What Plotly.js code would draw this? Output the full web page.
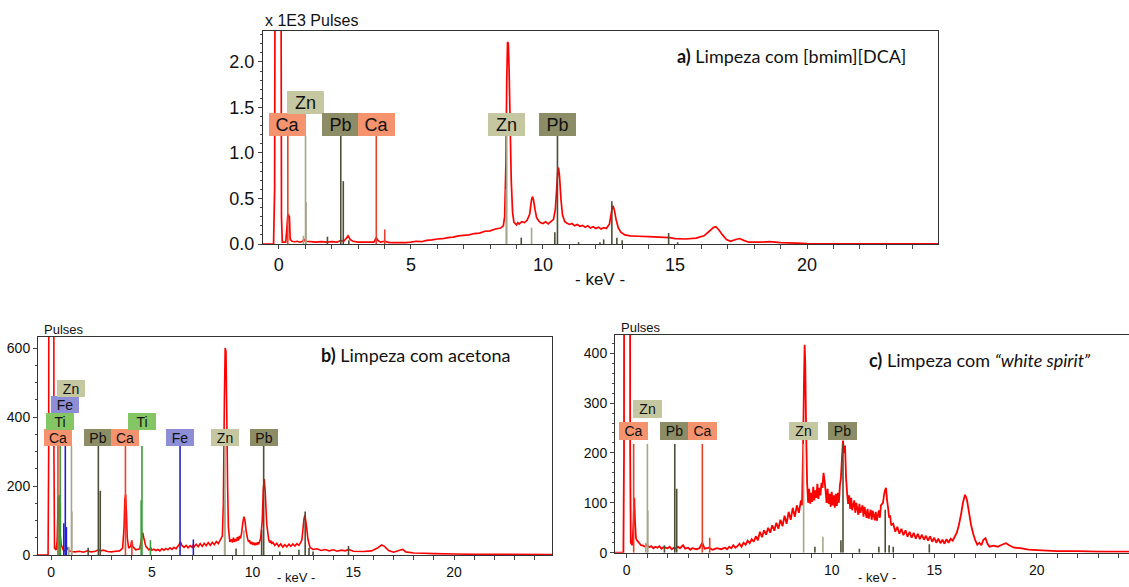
<!DOCTYPE html>
<html><head><meta charset="utf-8">
<script src="https://cdn.plot.ly/plotly-3.0.1.min.js"></script>
<style>html,body{margin:0;padding:0;background:#fff;} #chart{width:1129px;height:587px;}</style>
</head><body><div id="chart"></div>
<script>
// ---------- Spectrum a (x 1E3 pulses) ----------
const aEnergy = [-0.6,-0.2,-0.16,-0.13,0.07,0.1,0.13,0.26,0.3,0.34,0.36,0.4,0.43,0.5,0.6,0.7,0.8,0.9,0.95,1.0,1.2,1.4,1.6,1.8,2.0,2.2,2.35,2.45,2.55,2.62,2.7,2.8,3.0,3.3,3.6,3.69,3.75,3.85,4.0,4.2,4.5,4.8,5.0,5.2,5.4,5.6,5.8,6.0,6.2,6.4,6.6,6.8,7.0,7.2,7.4,7.6,7.8,8.0,8.2,8.4,8.5,8.55,8.6,8.63,8.66,8.69,8.72,8.76,8.8,8.85,8.9,9.0,9.05,9.1,9.2,9.3,9.4,9.5,9.56,9.6,9.64,9.7,9.76,9.85,9.9,10.0,10.1,10.2,10.3,10.4,10.47,10.52,10.56,10.59,10.63,10.68,10.74,10.82,10.9,11.0,11.1,11.2,11.3,11.4,11.5,11.6,11.7,11.8,11.9,12.0,12.1,12.2,12.3,12.4,12.52,12.6,12.65,12.7,12.77,12.85,12.95,13.1,13.3,13.6,14.0,14.4,14.8,15.0,15.4,15.8,16.1,16.3,16.45,16.55,16.65,16.8,16.95,17.1,17.3,17.45,17.6,17.8,18.2,18.6,19.0,19.6,20.0,21,22,25];
const aCounts = [0,0,0.6,5,5,0.3,0.02,0.02,0.15,0.32,0.32,0.3,0.05,0.03,0.025,0.03,0.02,0.03,0.05,0.03,0.025,0.02,0.025,0.02,0.025,0.02,0.04,0.03,0.06,0.09,0.05,0.03,0.02,0.02,0.02,0.07,0.04,0.02,0.03,0.015,0.015,0.015,0.02,0.03,0.025,0.04,0.045,0.055,0.058,0.07,0.075,0.09,0.095,0.1,0.115,0.12,0.14,0.145,0.165,0.175,0.2,0.3,0.9,1.8,2.22,2.2,1.9,1.3,0.7,0.35,0.24,0.21,0.235,0.22,0.245,0.235,0.26,0.33,0.47,0.52,0.49,0.38,0.29,0.25,0.235,0.225,0.245,0.22,0.245,0.27,0.38,0.6,0.8,0.84,0.74,0.5,0.32,0.25,0.23,0.215,0.225,0.2,0.215,0.195,0.205,0.185,0.2,0.175,0.19,0.17,0.185,0.165,0.18,0.17,0.22,0.36,0.42,0.38,0.27,0.18,0.13,0.1,0.09,0.085,0.08,0.075,0.07,0.06,0.055,0.065,0.09,0.14,0.18,0.19,0.16,0.1,0.05,0.03,0.05,0.06,0.04,0.02,0.02,0.025,0.015,0.01,0.005,0.003,0.002,0.001];

// ---------- Spectrum b (pulses) ----------
const bEnergy = [-0.65,-0.15,-0.12,-0.1,0.12,0.14,0.17,0.25,0.3,0.36,0.45,0.5,0.6,0.7,0.8,0.9,1.0,1.2,1.4,1.6,1.8,2.0,2.2,2.35,2.45,2.6,2.8,3.0,3.2,3.4,3.55,3.62,3.66,3.7,3.74,3.78,3.85,3.95,4.0,4.05,4.2,4.4,4.48,4.55,4.6,4.7,4.85,4.95,5.0,5.1,5.2,5.3,5.4,5.5,5.6,5.7,5.8,5.9,6.0,6.1,6.2,6.3,6.35,6.42,6.5,6.6,6.7,6.8,6.9,7.0,7.05,7.1,7.2,7.3,7.4,7.5,7.6,7.7,7.8,7.9,8.0,8.1,8.2,8.3,8.4,8.5,8.55,8.6,8.64,8.68,8.72,8.76,8.8,8.87,8.95,9.0,9.05,9.1,9.15,9.2,9.25,9.3,9.35,9.4,9.45,9.52,9.57,9.62,9.68,9.75,9.8,9.85,9.9,9.95,10.0,10.05,10.1,10.15,10.2,10.25,10.3,10.35,10.4,10.48,10.53,10.58,10.63,10.7,10.8,10.85,10.9,10.95,11.0,11.1,11.2,11.3,11.4,11.5,11.6,11.7,11.8,11.9,12.0,12.1,12.2,12.3,12.4,12.45,12.55,12.6,12.66,12.75,12.85,13.0,13.2,13.4,13.6,13.8,14.0,14.2,14.4,14.6,14.76,15.0,15.5,15.9,16.2,16.4,16.55,16.75,17.0,17.3,17.45,17.6,18.0,18.5,19.0,20.0,21,22,25];
const bCounts = [0,0,300,2000,2000,300,20,15,40,170,60,30,15,12,20,12,10,9,11,8,12,9,11,15,12,14,10,9,11,12,20,80,160,175,120,50,20,25,42,25,15,18,45,65,50,25,15,20,14,17,13,16,12,18,14,19,15,21,16,22,18,26,30,38,27,22,28,21,27,22,30,24,31,24,33,25,34,27,36,28,37,30,39,33,44,55,150,450,600,590,400,200,80,38,45,36,50,38,46,40,52,42,55,48,62,95,111,100,70,48,38,42,32,38,30,36,28,35,29,37,31,40,48,100,190,220,180,90,45,36,42,32,38,28,34,25,32,23,30,24,31,25,32,26,33,28,38,45,105,116,90,45,22,16,18,13,16,12,15,11,14,12,16,11,10,12,20,29,25,13,8,14,16,9,6,5,4,3,2,2,1];

// ---------- Spectrum c (pulses) ----------
const cEnergy = [-0.57,-0.16,-0.13,-0.11,0.14,0.17,0.2,0.28,0.33,0.37,0.41,0.45,0.5,0.6,0.7,0.8,0.9,1.0,1.1,1.2,1.3,1.4,1.5,1.6,1.7,1.8,2.0,2.1,2.2,2.3,2.4,2.5,2.6,2.75,2.85,3.0,3.1,3.2,3.4,3.55,3.69,3.8,4.0,4.2,4.4,4.6,4.8,4.9,5.0,5.1,5.2,5.3,5.4,5.5,5.6,5.7,5.8,5.9,6.0,6.1,6.2,6.3,6.4,6.5,6.6,6.7,6.8,6.9,7.0,7.1,7.2,7.3,7.4,7.5,7.6,7.7,7.8,7.9,8.0,8.1,8.2,8.3,8.4,8.5,8.55,8.6,8.65,8.68,8.71,8.75,8.8,8.85,8.9,8.95,9.0,9.05,9.1,9.15,9.2,9.25,9.3,9.35,9.4,9.45,9.5,9.55,9.6,9.65,9.7,9.75,9.8,9.85,9.9,9.95,10.0,10.05,10.1,10.15,10.2,10.25,10.3,10.35,10.4,10.45,10.5,10.55,10.6,10.65,10.7,10.75,10.8,10.85,10.9,10.95,11.0,11.1,11.15,11.2,11.3,11.35,11.4,11.5,11.55,11.6,11.7,11.75,11.8,11.9,11.95,12.0,12.1,12.15,12.2,12.3,12.35,12.4,12.5,12.55,12.6,12.65,12.7,12.75,12.8,12.85,12.9,13.0,13.1,13.2,13.3,13.4,13.5,13.6,13.7,13.8,13.9,14.0,14.1,14.2,14.3,14.4,14.5,14.6,14.7,14.8,14.9,15.0,15.1,15.2,15.3,15.4,15.5,15.6,15.7,15.8,15.9,16.0,16.1,16.2,16.3,16.4,16.5,16.55,16.6,16.7,16.8,16.9,17.0,17.1,17.2,17.3,17.4,17.5,17.6,17.7,17.9,18.1,18.3,18.5,18.7,18.9,19.2,19.6,20.0,20.5,21,22,23,24.5];
const cCounts = [0,0,200,2000,2000,200,20,15,60,110,60,30,25,20,15,14,12,16,11,13,9,12,10,13,8,11,9,12,7,10,8,12,9,15,8,10,6,9,7,9,20,8,10,6,9,7,10,7,12,9,15,10,13,18,12,20,16,24,19,27,22,33,25,42,31,45,36,50,40,55,44,60,48,66,53,74,58,82,66,90,72,95,80,105,95,200,350,417,380,250,140,100,128,98,120,102,132,105,125,110,138,108,130,115,140,130,160,145,125,100,128,98,118,92,122,95,115,90,118,94,120,100,135,150,190,225,200,215,150,120,98,115,88,110,85,105,80,100,76,98,80,95,72,92,70,88,68,86,66,84,65,82,64,85,70,95,100,115,125,130,105,90,70,75,55,58,42,52,38,48,35,45,32,42,30,40,28,38,27,36,26,34,24,33,22,30,20,28,19,26,18,27,20,28,24,32,40,55,75,100,116,112,105,80,55,38,25,16,20,15,26,29,18,12,14,12,16,19,14,10,9,6,5,4,3,3,2,2];

// ---------- Element lines (energy keV, height, element) ----------
const aLineEnergy  = [0.34,3.69,4.01, 0.93,1.01,1.03,8.61,8.63,9.57, 1.84,2.345,2.44,2.65,9.18,10.45,10.55,11.35,12.16,12.3,12.61,12.8,13.0,14.76,15.1];
const aLineHeight  = [1.19,1.19,0.16, 0.09,1.19,0.46,0.6,1.19,0.18, 0.08,1.19,0.69,0.04,0.07,0.13,1.19,0.02,0.02,0.05,0.47,0.07,0.04,0.12,0.02];
const aLineElement = ['Ca','Ca','Ca','Zn','Zn','Zn','Zn','Zn','Zn','Pb','Pb','Pb','Pb','Pb','Pb','Pb','Pb','Pb','Pb','Pb','Pb','Pb','Pb','Pb'];

const bLineEnergy  = [0.34,3.69,4.01, 0.40,0.45,0.46,4.47,4.51,4.93, 0.63,0.705,0.76,6.40,7.06, 0.88,1.01,1.03,8.61,8.63,9.57, 1.84,2.345,2.44,9.18,10.45,10.55,11.35,12.3,12.61,12.8,13.0,14.76];
const bLineHeight  = [316,316,42, 174,316,150,159,316,43, 92,316,81,316,45, 24,316,126,160,316,72, 21,316,186,19,72,316,10,15,126,20,10,26];
const bLineElement = ['Ca','Ca','Ca','Ti','Ti','Ti','Ti','Ti','Ti','Fe','Fe','Fe','Fe','Fe','Zn','Zn','Zn','Zn','Zn','Zn','Pb','Pb','Pb','Pb','Pb','Pb','Pb','Pb','Pb','Pb','Pb','Pb'];

const cLineEnergy  = [0.34,3.69,4.05, 0.93,1.01,1.03,8.63,9.57, 1.84,2.345,2.44,9.18,10.45,10.55,11.35,12.3,12.61,12.8,13.0,14.76];
const cLineHeight  = [218,218,30, 20,218,85,218,32, 15,218,128,12,25,218,8,12,86,15,12,17];
const cLineElement = ['Ca','Ca','Ca','Zn','Zn','Zn','Zn','Zn','Pb','Pb','Pb','Pb','Pb','Pb','Pb','Pb','Pb','Pb','Pb','Pb'];

// ---------- Element labels ----------
const aLabelEnergy = [0.34,1.01,2.345,3.69,8.63,10.55];
const aLabelElement = ['Ca','Zn','Pb','Ca','Zn','Pb'];
const aLabelRow = [0,1,0,0,0,0];
const bLabelEnergy = [0.34,0.45,0.705,1.01,2.345,3.69,4.51,6.40,8.63,10.55];
const bLabelElement = ['Ca','Ti','Fe','Zn','Pb','Ca','Ti','Fe','Zn','Pb'];
const bLabelRow = [0,1,2,3,0,0,1,0,0,0];
const cLabelEnergy = [0.34,1.01,2.345,3.69,8.63,10.55];
const cLabelElement = ['Ca','Zn','Pb','Ca','Zn','Pb'];
const cLabelRow = [0,1,0,0,0,0];

// ---------- styles ----------
const lineColor = {Ca:'#E8402A', Zn:'#A6A68A', Pb:'#4E4E36', Ti:'#3A9E3A', Fe:'#2222D0'};
const boxColor  = {Ca:'#F4936E', Zn:'#C4C7A0', Pb:'#8C8C66', Ti:'#84C664', Fe:'#8E8ED6'};
const TXT = '#111';
const SANS = 'Liberation Sans, Arial, sans-serif';

const panels = [
  {x:'x', y:'y', E:aEnergy, C:aCounts, LE:aLineEnergy, LH:aLineHeight, LEl:aLineElement, sw:1.7,
   labE:aLabelEnergy, labEl:aLabelElement, labRow:aLabelRow, labH:1.19, boxW:37, boxH:23, rowH:22, base:0, fs:18},
  {x:'x2', y:'y2', E:bEnergy, C:bCounts, LE:bLineEnergy, LH:bLineHeight, LEl:bLineElement, sw:1.6,
   labE:bLabelEnergy, labEl:bLabelElement, labRow:bLabelRow, labH:316, boxW:28, boxH:17, rowH:16.3, base:0, fs:14},
  {x:'x3', y:'y3', E:cEnergy, C:cCounts, LE:cLineEnergy, LH:cLineHeight, LEl:cLineElement, sw:1.8,
   labE:cLabelEnergy, labEl:cLabelElement, labRow:cLabelRow, labH:218, boxW:29, boxH:17.5, rowH:21.7, base:4, fs:14}
];

const traces = [];
const annotations = [];
panels.forEach(p => {
  traces.push({type:'scatter', mode:'lines', x:p.E, y:p.C, xaxis:p.x, yaxis:p.y,
    line:{color:'#FF0000', width:p.sw, simplify:false}, hoverinfo:'skip', showlegend:false});
  Object.keys(lineColor).forEach(el => {
    const xs = [], ys = [];
    p.LE.forEach((e,i) => { if (p.LEl[i] === el) { xs.push(e,e,null); ys.push(0,p.LH[i],null); } });
    if (xs.length) traces.push({type:'scatter', mode:'lines', x:xs, y:ys, xaxis:p.x, yaxis:p.y,
      line:{color:lineColor[el], width:1.6}, hoverinfo:'skip', showlegend:false, connectgaps:false});
  });
  p.labE.forEach((e,i) => {
    annotations.push({xref:p.x, yref:p.y, x:e, y:p.labH, xanchor:'center', yanchor:'bottom',
      yshift:p.base + p.labRow[i]*p.rowH, text:p.labEl[i], showarrow:false,
      bgcolor:boxColor[p.labEl[i]], width:p.boxW, height:p.boxH, borderpad:0, borderwidth:0,
      font:{family:SANS, size:p.fs, color:TXT}});
  });
});

function px(x){return x/1129;} function py(y){return 1 - y/587;}
const TITLEF = {family:'Lato, Open Sans, sans-serif', size:18, color:'#111'};
annotations.push(
  {xref:'paper', yref:'paper', x:px(908), y:py(56), xanchor:'right', yanchor:'middle', showarrow:false,
   text:'<b>a)</b> Limpeza com [bmim][DCA]', font:TITLEF},
  {xref:'paper', yref:'paper', x:px(512), y:py(355), xanchor:'right', yanchor:'middle', showarrow:false,
   text:'<b>b)</b> Limpeza com acetona', font:TITLEF},
  {xref:'paper', yref:'paper', x:px(1093), y:py(360), xanchor:'right', yanchor:'middle', showarrow:false,
   text:'<b>c)</b> Limpeza com <i>“white spirit”</i>', font:TITLEF},
  {xref:'paper', yref:'paper', x:px(263), y:py(20), xanchor:'left', yanchor:'middle', showarrow:false,
   text:'x 1E3 Pulses', font:{family:SANS, size:16, color:TXT}},
  {xref:'paper', yref:'paper', x:px(42), y:py(329), xanchor:'left', yanchor:'middle', showarrow:false,
   text:'Pulses', font:{family:SANS, size:13, color:TXT}},
  {xref:'paper', yref:'paper', x:px(619), y:py(327), xanchor:'left', yanchor:'middle', showarrow:false,
   text:'Pulses', font:{family:SANS, size:13, color:TXT}},
  {xref:'paper', yref:'paper', x:px(600), y:py(280), xanchor:'center', yanchor:'middle', showarrow:false,
   text:'- keV -', font:{family:SANS, size:17, color:TXT}},
  {xref:'paper', yref:'paper', x:px(296), y:py(577), xanchor:'center', yanchor:'middle', showarrow:false,
   text:'- keV -', font:{family:SANS, size:13, color:TXT}},
  {xref:'paper', yref:'paper', x:px(877), y:py(577), xanchor:'center', yanchor:'middle', showarrow:false,
   text:'- keV -', font:{family:SANS, size:13, color:TXT}}
);

function xax(domain, range, anchor, fs, mirror){
  return {domain:domain, range:range, anchor:anchor, tickmode:'linear', tick0:0, dtick:5,
    ticks:'outside', ticklen:4, tickcolor:'#444', tickwidth:1,
    minor:{dtick:1, tick0:0, ticks:'outside', ticklen:4, tickcolor:'#444', tickwidth:1},
    showline:true, linecolor:'#333', linewidth:1, mirror:mirror, showgrid:false, zeroline:false,
    tickfont:{family:SANS, size:fs, color:TXT}, fixedrange:true};
}
function yax(domain, range, anchor, dt, mdt, fs, fmt, mirror){
  const o = {domain:domain, range:range, anchor:anchor, tickmode:'linear', tick0:0, dtick:dt,
    ticks:'outside', ticklen:4, tickcolor:'#444', tickwidth:1,
    minor:{dtick:mdt, tick0:0, ticks:'outside', ticklen:2, tickcolor:'#444', tickwidth:1},
    showline:true, linecolor:'#333', linewidth:1, mirror:mirror, showgrid:false, zeroline:false,
    tickfont:{family:SANS, size:fs, color:TXT}, fixedrange:true};
  if (fmt) o.tickformat = fmt;
  return o;
}

const layout = {
  width:1129, height:587, autosize:false, margin:{l:0,r:0,t:0,b:0,pad:0},
  paper_bgcolor:'#fff', plot_bgcolor:'#fff', showlegend:false,
  xaxis:  xax([263/1129, 938/1129], [-0.6, 24.96], 'y', 18, true),
  yaxis:  yax([1-244/587, 1-31/587], [0, 2.34], 'x', 0.5, 0.1, 18, '.1f', true),
  xaxis2: xax([38/1129, 552/1129], [-0.65, 24.86], 'y2', 14, true),
  yaxis2: yax([1-555/587, 1-337/587], [0, 632], 'x2', 200, 50, 14, null, true),
  xaxis3: xax([615/1129, 1], [-0.57, 24.5], 'y3', 14, true),
  yaxis3: yax([1-552.7/587, 1-334.7/587], [0, 437], 'x3', 100, 20, 14, null, false),
  annotations: annotations
};

Plotly.newPlot('chart', traces, layout, {displayModeBar:false, staticPlot:true});
</script></body></html>
